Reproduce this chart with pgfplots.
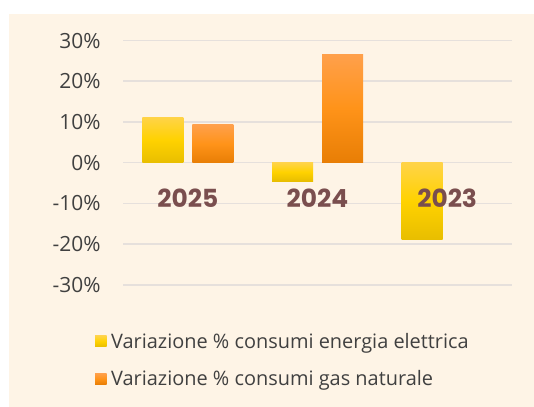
\documentclass[border=0pt]{standalone}
\usepackage{pgfplots}
\pgfplotsset{compat=1.18}
\usepackage{fontspec}
\setmainfont{Open Sans}
\newfontfamily\catfont{Poppins}
\definecolor{bg}{RGB}{254,244,230}
\definecolor{gridc}{RGB}{230,224,220}
\definecolor{txt}{RGB}{64,64,64}
\definecolor{catc}{RGB}{122,78,78}
\definecolor{yTop}{RGB}{255,211,72}
\definecolor{yMid}{RGB}{255,210,0}
\definecolor{yBot}{RGB}{232,190,0}
\definecolor{oTop}{RGB}{255,160,75}
\definecolor{oMid}{RGB}{255,147,25}
\definecolor{oBot}{RGB}{232,126,5}
\pgfplotsset{
  ybarY/.style={ybar, bar width=41bp, bar shift=-25bp, draw=none,
    top color=yTop, bottom color=yBot, middle color=yMid, forget plot},
  ybarO/.style={ybar, bar width=41bp, bar shift=25bp, draw=none,
    top color=oTop, bottom color=oBot, middle color=oMid, forget plot},
}
\begin{document}
\begin{tikzpicture}
\path[use as bounding box] (0bp,0bp) rectangle (534bp,407bp);
\fill[white] (0bp,0bp) rectangle (534bp,407bp);
\fill[bg] (9bp,0bp) rectangle (534bp,393bp);
\begin{axis}[
  at={(123bp,122.2bp)}, anchor=south west, scale only axis,
  width=389bp, height=244.2bp,
  xmin=-0.5, xmax=2.5, ymin=-30, ymax=30,
  axis line style={draw=none}, tick style={draw=none},
  xtick=\empty, ytick={-30,-20,...,30},
  ymajorgrids, major grid style={gridc, line width=1.6bp},
  /pgf/number format/assume math mode=true,
  yticklabel={\pgfmathprintnumber{\tick}\%},
  yticklabel style={font=\fontsize{21}{24}\selectfont, text=txt, xshift=-19bp},
  legend style={at={(axis description cs:-0.072,-0.19)}, anchor=north west,
    draw=none, fill=none, inner sep=0pt, row sep=18bp,
    font=\fontsize{20}{23}\selectfont, text=txt,
    nodes={inner sep=1.5bp},
    /tikz/every odd column/.append style={column sep=3bp}},
  legend cell align=left,
  clip=false,
]
\addplot[ybarY] coordinates {(0,11.2)};
\addplot[ybarY] coordinates {(1,-4.5)};
\addplot[ybarY] coordinates {(2,-18.8)};
\addplot[ybarO] coordinates {(0,9.3)};
\addplot[ybarO] coordinates {(1,26.7)};
\addlegendimage{legend image code/.code={\path[draw=none,top color=yTop,bottom color=yBot,middle color=yMid] (0bp,-5.5bp) rectangle (11.5bp,5.5bp);}}
\addlegendentry{Variazione \% consumi energia elettrica}
\addlegendimage{legend image code/.code={\path[draw=none,top color=oTop,bottom color=oBot,middle color=oMid] (0bp,-5.5bp) rectangle (11.5bp,5.5bp);}}
\addlegendentry{Variazione \% consumi gas naturale}
\node[font=\catfont\bfseries\fontsize{25}{25}\selectfont, text=catc] at (axis cs:0,-8.7) {2025};
\node[font=\catfont\bfseries\fontsize{25}{25}\selectfont, text=catc] at (axis cs:1,-8.7) {2024};
\node[font=\catfont\bfseries\fontsize{25}{25}\selectfont, text=catc] at (axis cs:2,-8.7) {2023};
\end{axis}
\end{tikzpicture}
\end{document}
